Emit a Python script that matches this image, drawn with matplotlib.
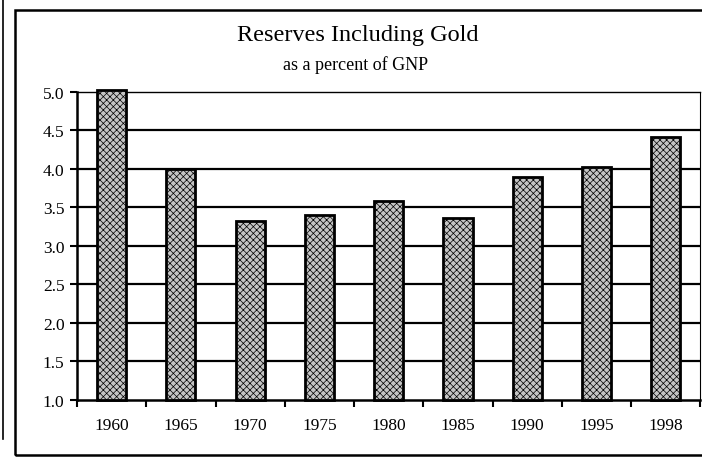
import numpy as np
import matplotlib
matplotlib.use('Agg')
import matplotlib.pyplot as plt
from matplotlib.patches import Rectangle
from matplotlib.lines import Line2D

# reserves including gold, % of GNP
years = ['1960', '1965', '1970', '1975', '1980', '1985', '1990', '1995', '1998']
reserves = [5.02, 4.00, 3.33, 3.40, 3.58, 3.36, 3.89, 4.03, 4.41]
yticks = [1.0, 1.5, 2.0, 2.5, 3.0, 3.5, 4.0, 4.5, 5.0]
base = 1.0

plt.rcParams['font.family'] = ['Liberation Serif', 'DejaVu Serif']
plt.rcParams['hatch.linewidth'] = 0.5

fig = plt.figure(figsize=(7.02, 4.6), dpi=100)
ax = fig.add_axes([0.1097, 0.1283, 0.888, 0.6697])

x = np.arange(len(years))
heights = [v - base for v in reserves]
bars = ax.bar(x, heights, width=0.42, bottom=base, color='#c4c4c4', edgecolor='black',
              hatch='xxxxx', linewidth=2, zorder=3)
for b in bars:
    b.set_clip_on(False)

ax.set_xlim(-0.5, len(years) - 0.5)
ax.set_ylim(1.0, 5.0)

# horizontal grid lines, black
for v in yticks[1:-1]:
    ax.axhline(v, color='black', lw=1.6, zorder=1)

ax.set_yticks(yticks)
ax.set_yticklabels(['%.1f' % v for v in yticks], fontsize=12.5)
ax.tick_params(axis='y', length=5, width=1.5, direction='out', pad=4)

ax.set_xticks(x)
ax.set_xticklabels(years, fontsize=12.5)
ax.tick_params(axis='x', which='major', length=0, pad=12)
ax.set_xticks(np.arange(len(years) + 1) - 0.5, minor=True)
ax.tick_params(axis='x', which='minor', length=5, width=1.5, direction='out')

ax.spines['left'].set_linewidth(1.8)
ax.spines['bottom'].set_linewidth(1.8)
ax.spines['top'].set_linestyle((0, (2, 1)))
ax.spines['top'].set_linewidth(1.0)
ax.spines['right'].set_linestyle((0, (2, 1)))
ax.spines['right'].set_linewidth(0.8)

fig.text(0.509, 0.922, 'Reserves Including Gold', ha='center', va='center', fontsize=17.5)
fig.text(0.506, 0.859, 'as a percent of GNP', ha='center', va='center', fontsize=13)

# outer frame and scan edge on the left
fig.patches.append(Rectangle((15 / 702, 1 - 456 / 460), 700 / 702, (456 - 11) / 460,
                             transform=fig.transFigure, fill=False, lw=1.8,
                             edgecolor='black'))
fig.lines.append(Line2D([3 / 702, 3 / 702], [1 - 440 / 460, 1.0],
                        transform=fig.transFigure, color='black', lw=1.2))

fig.savefig('out.png', dpi=100)
